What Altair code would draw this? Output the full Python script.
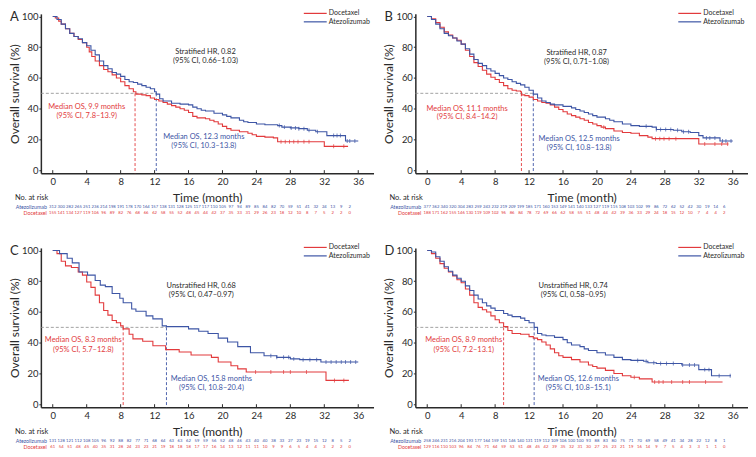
import altair as alt
import pandas as pd

RED = "#e23a3c"
BLUE = "#3d55a5"
GREY = "#8a8a8a"
DARK = "#2a2a2a"
FONT = "Lato"

GROUPS = ["Docetaxel", "Atezolizumab"]
X_TICKS = list(range(0, 37, 4))
Y_TICKS = list(range(0, 101, 20))
RISK_MONTHS = list(range(0, 36))

# ---------------- Panel A ----------------
A_DOC_T = [0, 0.3, 0.7, 1, 1.5, 2, 2.5, 3, 3.5, 4, 4.3, 4.6, 5, 5.5, 6, 6.5, 7, 7.5, 8, 8.5, 9, 9.5, 9.8, 10.5, 11, 11.5, 12, 12.5, 13, 13.5, 14, 14.5, 15, 15.5, 16, 16.5, 17, 18, 18.5, 19, 19.5, 20, 20.5, 21, 22, 23, 23.5, 24, 25, 26, 26.5, 32, 34.8]
A_DOC_S = [100, 99, 97, 95, 92, 89, 87, 85, 83, 80, 77, 74, 71, 68, 65.5, 64, 62, 60, 57.5, 55, 53, 51, 49.5, 49, 48.5, 47, 46, 45, 44, 43, 42, 41, 40, 39, 37.5, 35, 34, 33.5, 32.5, 31.5, 30, 28.5, 27, 26, 25, 24, 23, 22, 21.5, 21, 18.5, 15.5, 15.5]
A_ATE_T = [0, 0.5, 1, 1.5, 2, 2.5, 3, 3.5, 4, 4.5, 5, 5.5, 6, 6.5, 7, 7.5, 8, 8.5, 9, 9.5, 10, 10.5, 11, 11.5, 12, 12.2, 12.6, 13, 14, 15, 16, 16.5, 17, 17.5, 18, 19, 20, 20.5, 21, 22, 22.5, 23, 24, 25, 26.5, 27, 28, 29, 30, 31, 32.3, 34.5, 36]
A_ATE_S = [100, 98, 95, 92, 89, 87, 85.5, 83, 81, 78, 75, 71, 68, 66, 63.5, 62.5, 61, 59, 57.5, 57, 56, 55, 54, 53, 51, 49.5, 46.5, 45, 43.5, 43, 42.5, 41, 40, 39, 38.5, 37, 36, 35, 34, 32.5, 31.5, 31, 30, 29.5, 29, 28, 27.5, 27, 26, 25, 22.5, 19, 19]
A_DOC_CENS = [26.9, 27.4, 27.9, 28.4, 28.9, 29.6, 30.2, 33.1, 34.3]
A_ATE_CENS = [26.7, 27.3, 28.1, 28.6, 29.0, 29.6, 30.2, 31.2, 33.1, 33.5, 33.9, 34.7, 35.0, 35.6]
A_RISK_ATE = [312, 300, 282, 265, 251, 236, 214, 198, 191, 178, 170, 164, 157, 138, 131, 128, 125, 117, 117, 110, 105, 97, 94, 89, 85, 84, 82, 70, 59, 51, 41, 32, 24, 13, 9, 2]
A_RISK_DOC = [155, 141, 134, 127, 119, 106, 96, 89, 82, 76, 68, 66, 62, 58, 55, 52, 48, 45, 44, 42, 37, 35, 33, 31, 29, 26, 23, 18, 12, 10, 8, 7, 5, 2, 2, 0]
A_MEDIANS = [9.7, 12.2]
A_TEXT = ["Stratified HR, 0.82", "(95% CI, 0.66\u20131.03)", "Median OS, 9.9 months", "(95% CI, 7.8\u201313.9)", "Median OS, 12.3 months", "(95% CI, 10.3\u201313.8)"]

# ---------------- Panel B ----------------
B_DOC_T = [0, 0.5, 1, 1.5, 2, 2.5, 3, 3.5, 4, 4.5, 5, 5.5, 6, 6.5, 7, 7.5, 8, 8.5, 9, 9.5, 10, 10.5, 11, 11.1, 11.5, 12, 12.5, 13, 13.5, 14, 14.5, 15, 15.5, 16, 16.5, 17, 17.5, 18, 18.5, 19, 19.5, 20, 20.5, 21, 22, 23, 24, 25, 26, 26.5, 32, 35.5]
B_DOC_S = [100, 98.5, 96, 93, 90, 88, 86, 84.5, 82, 78, 74, 70, 67.5, 65, 62.5, 60.5, 59, 57, 55, 53, 52, 51.5, 51, 49, 48.5, 47.5, 46, 45, 44, 43.5, 42.5, 41, 39.5, 38, 36.5, 35.5, 34.5, 33.5, 32.5, 31, 30, 29, 28, 27, 25.5, 24.5, 24, 22.5, 21.5, 20.5, 17, 17]
B_ATE_T = [0, 0.5, 1, 1.5, 2, 2.5, 3, 3.5, 4, 4.5, 5, 5.5, 6, 6.5, 7, 7.5, 8, 8.5, 9, 9.5, 10, 10.5, 11, 11.5, 12, 12.5, 13, 13.5, 14, 14.5, 15, 16, 17, 17.5, 18, 18.5, 19, 19.5, 20, 21, 21.5, 22, 23, 24, 25, 26.5, 27, 29, 30, 31, 32, 32.5, 34.5, 36]
B_ATE_S = [100, 98, 95, 92, 89, 87.5, 86, 84, 82, 79, 75.5, 72, 69.5, 68, 66, 64.5, 63, 61.5, 60, 59, 57.5, 56.5, 55.5, 54, 52, 49.5, 47, 45, 44, 43, 42.5, 41.5, 40.5, 39.5, 38.5, 37.5, 36.5, 35.5, 34.5, 33.5, 32.5, 31.5, 30, 29, 28.5, 28, 26.5, 26, 25, 24.5, 22.5, 21, 19, 19]
B_DOC_CENS = [20.8, 26.9, 27.4, 27.9, 28.5, 29.3, 32.7, 33.9, 34.7, 35.4]
B_ATE_CENS = [25.8, 27.0, 27.5, 28.1, 28.7, 29.5, 30.2, 30.8, 32.9, 33.3, 33.9, 34.8, 35.2, 35.8]
B_RISK_ATE = [377, 362, 340, 320, 304, 283, 259, 243, 232, 219, 209, 199, 185, 171, 160, 153, 149, 141, 140, 133, 127, 119, 115, 108, 103, 102, 99, 86, 72, 62, 52, 42, 30, 19, 14, 6]
B_RISK_DOC = [188, 171, 162, 155, 146, 130, 119, 109, 102, 96, 86, 84, 78, 72, 69, 66, 62, 58, 55, 51, 48, 44, 42, 39, 36, 33, 29, 24, 18, 15, 12, 10, 7, 4, 4, 2]
B_MEDIANS = [11.1, 12.5]
B_TEXT = ["Stratified HR, 0.87", "(95% CI, 0.71\u20131.08)", "Median OS, 11.1 months", "(95% CI, 8.4\u201314.2)", "Median OS, 12.5 months", "(95% CI, 10.8\u201313.8)"]

# ---------------- Panel C ----------------
C_DOC_T = [0, 0.5, 1.0, 1.5, 2.2, 3.0, 3.5, 4.0, 4.5, 5.0, 5.5, 6.0, 6.5, 7.0, 7.5, 8.0, 8.3, 9.0, 9.45, 10.6, 11.8, 13.3, 14.9, 16.3, 18.7, 19.5, 21.0, 21.8, 22.8, 32.2, 34.9]
C_DOC_S = [100, 98, 93, 90, 89, 86, 84, 79.5, 76, 71, 66, 61, 58, 54.5, 53, 51, 49, 45.5, 42.5, 41, 38, 35.5, 34, 32, 30.5, 27.5, 25, 23, 21, 15.5, 15.5]
C_ATE_T = [0, 0.8, 1.7, 2.3, 3.1, 4.1, 5.0, 5.6, 6.2, 7.0, 7.9, 8.3, 9.3, 9.8, 11.0, 11.8, 12.9, 13.4, 14.9, 16.0, 17.2, 18.3, 19.5, 20.6, 21.8, 23.3, 24.9, 26.4, 28.0, 29.1, 31.6, 36]
C_ATE_S = [100, 98, 95, 92, 86, 84, 80.5, 77.5, 76.5, 72, 69, 66, 62, 60.5, 57.5, 55.5, 51, 50.5, 50.5, 49, 47.5, 46, 43, 40.5, 37.5, 33.5, 31.5, 30.5, 29.5, 29, 27.5, 27.5]
C_DOC_CENS = [23.9, 25.7, 27.2, 28.0, 29.9, 33.2, 34.3]
C_ATE_CENS = [25.7, 26.4, 27.2, 27.8, 28.4, 29.5, 30.3, 31.1, 32.2, 32.8, 33.4, 34.0, 34.5, 35.1, 35.7]
C_RISK_ATE = [131, 128, 121, 112, 108, 105, 96, 92, 88, 82, 77, 71, 68, 64, 63, 63, 62, 59, 59, 56, 52, 48, 46, 43, 40, 40, 38, 33, 27, 23, 19, 15, 12, 8, 5, 2]
C_RISK_DOC = [61, 54, 51, 48, 45, 40, 35, 31, 28, 24, 23, 23, 21, 19, 18, 18, 18, 17, 17, 16, 14, 13, 12, 11, 11, 10, 9, 9, 6, 5, 4, 4, 3, 2, 2, 0]
C_MEDIANS = [8.3, 13.4]
C_TEXT = ["Unstratified HR, 0.68", "(95% CI, 0.47\u20130.97)", "Median OS, 8.3 months", "(95% CI, 5.7\u201312.8)", "Median OS, 15.8 months", "(95% CI, 10.8\u201320.4)"]

# ---------------- Panel D ----------------
D_DOC_T = [0, 0.5, 1, 1.5, 2, 2.5, 3, 3.5, 4, 4.5, 5, 5.5, 6, 6.5, 7, 7.5, 8, 8.5, 9, 9.5, 10, 11, 12, 12.5, 13, 13.5, 14, 14.5, 15, 15.5, 16, 17, 18, 19, 19.5, 20, 21, 22, 23, 24, 25, 26.5, 34.8]
D_DOC_S = [100, 98, 95, 91.5, 88.5, 86, 83.5, 81, 79, 75, 71, 66, 63, 61.5, 60, 57.5, 55, 53, 50.5, 48, 46, 45.5, 44, 43, 42, 40.5, 38.5, 36, 33.5, 31.5, 30.5, 29, 27.5, 25.5, 24.5, 23.5, 22, 20, 18.5, 17.5, 16.5, 14.5, 14.5]
D_ATE_T = [0, 0.5, 1, 1.5, 2, 2.5, 3, 3.5, 4, 4.5, 5, 5.5, 6, 6.5, 7, 7.5, 8, 9, 9.5, 10, 11, 11.5, 12, 12.6, 13, 13.5, 14, 15, 16, 16.5, 17, 18, 18.5, 19, 20, 21, 22, 23, 24, 25.5, 26, 27, 30, 32, 33.5, 35.8]
D_ATE_S = [100, 99, 96, 93, 89.5, 86.5, 84, 82, 80, 77, 74, 71, 68.5, 66, 64, 62.5, 61, 59, 58, 57, 56, 54.5, 53, 50, 46, 45, 44.5, 43.5, 42, 40, 38.5, 37.5, 36, 35, 33.5, 32, 30.5, 29, 28.5, 28, 27, 26.5, 25.5, 22.5, 18.5, 18.5]
D_DOC_CENS = [24.4, 26.8, 27.3, 27.8, 28.8, 30.1, 30.9, 32.8]
D_ATE_CENS = [24.8, 25.8, 26.7, 27.5, 28.2, 29.0, 30.1, 30.9, 31.5, 32.7, 33.2, 34.4, 35.7]
D_RISK_ATE = [258, 246, 231, 216, 204, 193, 177, 164, 159, 151, 146, 140, 131, 119, 112, 109, 106, 100, 100, 93, 88, 83, 80, 75, 71, 70, 69, 58, 49, 41, 34, 28, 22, 12, 8, 1]
D_RISK_DOC = [129, 116, 110, 103, 96, 84, 76, 71, 64, 59, 53, 51, 48, 45, 42, 39, 35, 32, 31, 30, 27, 25, 23, 21, 19, 16, 14, 9, 7, 5, 4, 3, 3, 1, 1, 0]
D_MEDIANS = [9.0, 12.6]
D_TEXT = ["Unstratified HR, 0.74", "(95% CI, 0.58\u20130.95)", "Median OS, 8.9 months", "(95% CI, 7.2\u201313.1)", "Median OS, 12.6 months", "(95% CI, 10.8\u201315.1)"]

# ---------------- layout ----------------
XMIN, XMAX = -1.4, 37.8
YMIN, YMAX = -2.0, 101.7
W, H = 334, 160


def step_value(ts, ss, c):
    v = ss[0]
    for t, s in zip(ts, ss):
        if t <= c:
            v = s
    return v


def label_layer(text, x, y, size, color, align="left", baseline="middle"):
    return alt.Chart(pd.DataFrame({"label": [text]})).mark_text(
        fontSize=size, font=FONT, color=color, align=align, baseline=baseline).encode(
        x=alt.value(x), y=alt.value(y), text="label:N")


def panel(letter, doc_t, doc_s, ate_t, ate_s, doc_c, ate_c, meds, risk_ate, risk_doc, texts, pos):
    xs = alt.Scale(domain=[XMIN, XMAX], nice=False, zero=False)
    ys = alt.Scale(domain=[YMIN, YMAX], nice=False, zero=False)
    xaxis = alt.Axis(values=X_TICKS, title="Time (month)", grid=False, ticks=False,
                     domainColor=DARK, domainWidth=1.5, labelFontSize=9.5, labelPadding=3,
                     labelColor=DARK, titleColor=DARK, titleFontSize=12, titleFontWeight="normal",
                     titlePadding=7, labelFont=FONT, titleFont=FONT)
    yaxis = alt.Axis(values=Y_TICKS, title="Overall survival (%)", grid=False, tickSize=2,
                     tickColor=DARK, domainColor=DARK, domainWidth=1.5, labelFontSize=9.5,
                     labelPadding=1, labelColor=DARK, titleColor=DARK, titleFontSize=12,
                     titleFontWeight="normal", titlePadding=0, labelFont=FONT, titleFont=FONT)

    def X(f):
        return alt.X(f, type="quantitative", scale=xs, axis=xaxis)

    def Y(f):
        return alt.Y(f, type="quantitative", scale=ys, axis=yaxis)

    layers = []
    # median dashed guides
    layers.append(alt.Chart(pd.DataFrame({"t": [XMIN], "t2": [max(meds)], "s": [50]})).mark_rule(
        color=GREY, strokeDash=[3, 2], strokeWidth=0.8).encode(x=X("t"), x2=alt.X2("t2"), y=Y("s")))
    for m, col in [(meds[0], RED), (meds[1], BLUE)]:
        layers.append(alt.Chart(pd.DataFrame({"t": [m], "s": [50], "s2": [YMIN]})).mark_rule(
            color=col, strokeDash=[3, 2], strokeWidth=0.9).encode(x=X("t"), y=Y("s"), y2=alt.Y2("s2")))

    # survival curves and censor marks
    for ts, ss, cens, col in [(doc_t, doc_s, doc_c, RED), (ate_t, ate_s, ate_c, BLUE)]:
        layers.append(alt.Chart(pd.DataFrame({"t": ts, "s": ss})).mark_line(
            interpolate="step-after", strokeWidth=1.1, color=col).encode(x=X("t"), y=Y("s")))
        df = pd.DataFrame({"t": cens, "s": [step_value(ts, ss, c) for c in cens]})
        layers.append(alt.Chart(df).mark_tick(orient="vertical", size=4, thickness=1, color=col)
                      .encode(x=X("t"), y=Y("s")))

    # x ticks drawn inward
    xt = pd.DataFrame({"t": X_TICKS, "s": [YMIN] * len(X_TICKS), "s2": [YMIN + 2.0] * len(X_TICKS)})
    layers.append(alt.Chart(xt).mark_rule(color=DARK, strokeWidth=1).encode(
        x=X("t"), y=Y("s"), y2=alt.Y2("s2")))

    # annotations
    for lines_, (x, ys_), col in [(texts[0:2], pos[0], DARK), (texts[2:4], pos[1], RED),
                                  (texts[4:6], pos[2], BLUE)]:
        df = pd.DataFrame({"t": [x] * len(lines_), "s": ys_, "label": lines_})
        layers.append(alt.Chart(df).mark_text(fontSize=7.5, font=FONT, color=col).encode(
            x=X("t"), y=Y("s"), text="label:N"))

    # legend
    for i, (g, col) in enumerate([("Docetaxel", RED), ("Atezolizumab", BLUE)]):
        yy = -0.5 + 8.5 * i
        layers.append(alt.Chart(pd.DataFrame({"g": [g]})).mark_rule(color=col, strokeWidth=1.2).encode(
            x=alt.value(W - 70), x2=alt.value(W - 47), y=alt.value(yy)))
        layers.append(label_layer(g, W - 45, yy, 7, DARK))

    # number at risk table
    for risk, col, yy in [(risk_ate, BLUE, H + 34), (risk_doc, RED, H + 40)]:
        layers.append(alt.Chart(pd.DataFrame({"t": RISK_MONTHS, "n": risk})).mark_text(
            fontSize=4.2, font=FONT, color=col).encode(x=X("t"), y=alt.value(yy), text="n:N"))
    layers.append(label_layer("Atezolizumab", 6, H + 34, 5.3, BLUE, align="right"))
    layers.append(label_layer("Docetaxel", 6, H + 40, 5.3, RED, align="right"))
    layers.append(label_layer("No. at risk", -26, H + 25, 7.5, DARK))

    # panel letter
    layers.append(label_layer(letter, -31, -3, 13, DARK, baseline="top"))

    return alt.layer(*layers).properties(width=W, height=H)


pA = panel("A", A_DOC_T, A_DOC_S, A_ATE_T, A_ATE_S, A_DOC_CENS, A_ATE_CENS, A_MEDIANS,
           A_RISK_ATE, A_RISK_DOC, A_TEXT,
           [(18, [76.6, 71.0]), (4.0, [40.8, 35.2]), (17.8, [21.3, 15.7])])
pB = panel("B", B_DOC_T, B_DOC_S, B_ATE_T, B_ATE_S, B_DOC_CENS, B_ATE_CENS, B_MEDIANS,
           B_RISK_ATE, B_RISK_DOC, B_TEXT,
           [(17.6, [76.0, 70.4]), (4.7, [40.1, 34.5]), (17.9, [20.2, 14.6])])
pC = panel("C", C_DOC_T, C_DOC_S, C_ATE_T, C_ATE_S, C_DOC_CENS, C_ATE_CENS, C_MEDIANS,
           C_RISK_ATE, C_RISK_DOC, C_TEXT,
           [(17.5, [76.7, 71.0]), (3.6, [41.6, 35.3]), (18.7, [16.4, 10.7])])
pD = panel("D", D_DOC_T, D_DOC_S, D_ATE_T, D_ATE_S, D_DOC_CENS, D_ATE_CENS, D_MEDIANS,
           D_RISK_ATE, D_RISK_DOC, D_TEXT,
           [(17.2, [76.6, 71.0]), (4.3, [41.6, 35.3]), (17.8, [16.4, 10.7])])

row1 = alt.hconcat(pA, pB, spacing=9)
row2 = alt.hconcat(pC, pD, spacing=9)
chart = alt.vconcat(row1, row2, spacing=26).properties(
    padding={"left": 0, "top": 0, "right": 0, "bottom": 0}
).configure(font=FONT).configure_view(stroke=None)

chart.save("out.html", embed_options={"renderer": "svg", "actions": False})
